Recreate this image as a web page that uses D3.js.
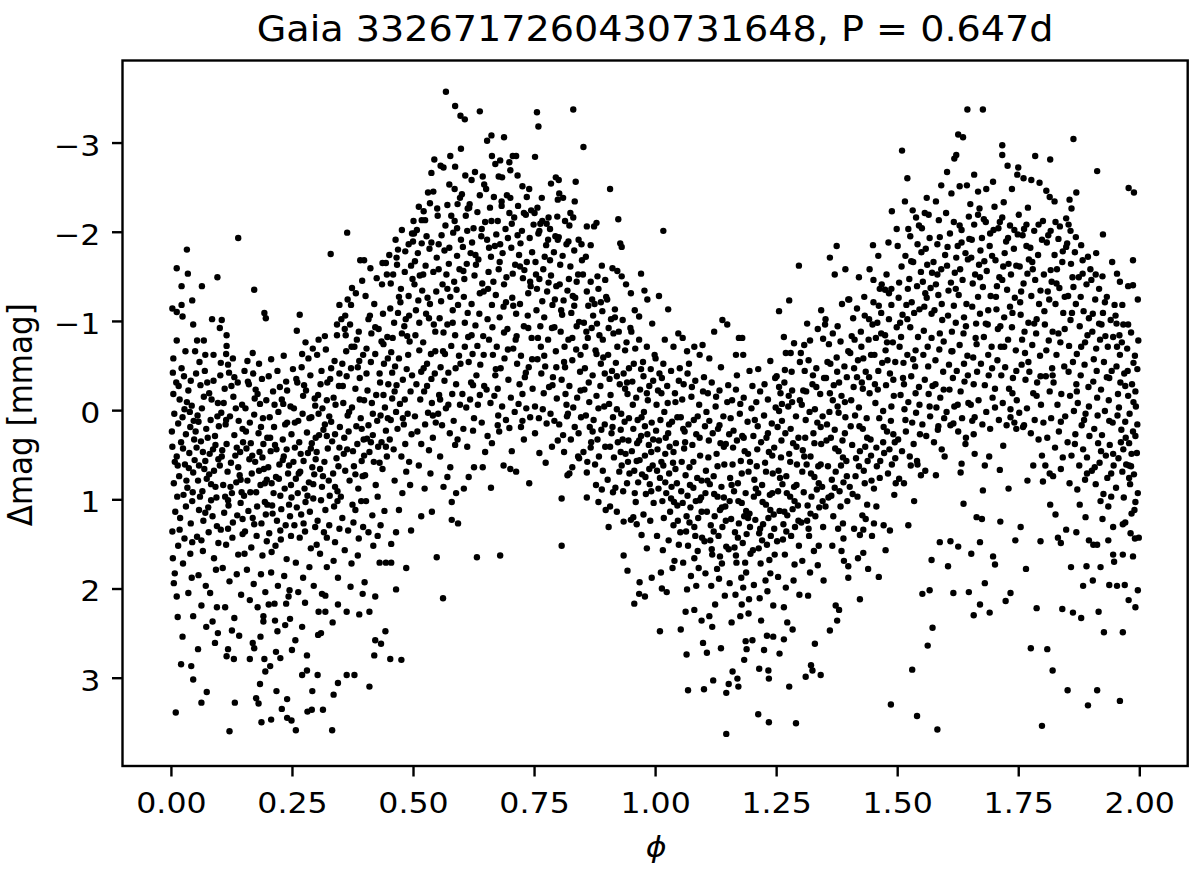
<!DOCTYPE html>
<html>
<head>
<meta charset="utf-8">
<script src="https://cdn.jsdelivr.net/npm/d3@7"></script>
<style>
body { margin: 0; background: #fff; }
text { font-family: "DejaVu Sans", sans-serif; fill: #000; }
</style>
</head>
<body>
<svg id="chart" width="1200" height="874"></svg>
<script>
const title = "Gaia 3326717260430731648, P = 0.647d"
const xLabel = "ϕ"
const yLabel = "Δmag [mmag]"
const xTicks = [0, 0.25, 0.5, 0.75, 1, 1.25, 1.5, 1.75, 2]
const yTicks = [-3, -2, -1, 0, 1, 2, 3]

// folded light curve, [phase, Δmag], one array per quarter of phase
const q1 = [
[.004,-.42],[.011,-.31],[.018,-.12],[.027,-.38],[.036,-.22],[.043,-.05],[.007,.04],[.015,.15],[.024,.08],[.031,.27],[.040,.19],[.048,.33],[.003,.41],[.012,.52],[.021,.36],[.029,.61],[.038,.48],[.046,.70],[.006,.82],[.017,.74],[.026,.95],[.034,.87],[.044,1.02],[.009,1.14],[.019,1.21],[.031,1.08],[.041,1.27],[.005,-.18],[.022,-.47],[.039,.02],[.014,.62],[.047,.12],[.002,.24],[.033,-.09],
[.003,1.36],[.015,1.52],[.028,1.44],[.040,1.61],[.004,1.66],[.008,1.83],[.043,1.88],[.006,1.94],[.012,2.09],[.025,1.72],[.036,2.05],[.014,2.32],[.046,2.31],[.024,2.54],[.021,2.85],[.042,2.87],[.046,3.02],[.010,3.39],
[.033,-1.80],[.012,-1.59],[.035,-1.53],[.022,-1.39],[.044,-1.23],[.022,-1.18],[.003,-1.14],[.012,-1.10],[.024,-1.05],[.046,-.96],[.012,-.78],[.030,-.66],[.005,-.58],
[.052,-.41],[.061,-.28],[.070,-.44],[.079,-.19],[.088,-.33],[.097,-.08],[.055,.06],[.064,-.02],[.073,.21],[.082,.11],[.091,.29],[.099,.18],[.053,.42],[.062,.35],[.071,.57],[.080,.49],[.089,.68],[.098,.55],[.056,.79],[.065,.91],[.074,.77],[.083,1.01],[.092,.86],[.058,1.12],[.067,1.24],[.077,1.09],[.086,1.19],[.095,1.30],[.051,.24],[.069,.66],[.087,.44],[.094,.98],[.060,.97],[.076,.31],[.084,-.12],
[.054,1.42],[.066,1.58],[.078,1.37],[.089,1.66],[.098,1.49],[.057,1.85],[.072,1.97],[.093,1.79],[.063,2.19],[.073,2.43],[.086,2.37],[.095,2.21],[.097,2.50],[.091,2.61],[.056,2.68],[.074,3.16],[.063,3.28],[.081,2.05],
[.064,-1.39],[.096,-1.49],[.085,-1.02],[.054,-.78],[.068,-.78],[.050,-.66],[.071,-.62],[.088,-.62],[.059,-.54],
[.102,-.39],[.111,-.24],[.120,-.42],[.129,-.15],[.138,-.31],[.147,-.06],[.104,.03],[.113,.16],[.122,.07],[.131,.28],[.140,.12],[.149,.36],[.106,.45],[.115,.38],[.124,.59],[.133,.51],[.142,.73],[.108,.84],[.117,.69],[.126,.93],[.135,.81],[.144,1.04],[.110,1.15],[.119,1.07],[.128,1.26],[.137,1.18],[.146,.92],[.101,.62],[.125,-.27],[.143,.47],[.112,.97],[.134,-.02],[.148,1.22],
[.103,1.34],[.114,1.51],[.127,1.43],[.139,1.62],[.148,1.39],[.107,1.77],[.121,1.92],[.136,1.84],[.145,2.07],[.112,2.21],[.131,2.33],[.118,2.68],[.130,2.79],[.115,2.76],[.141,2.53],[.132,3.28],[.121,3.60],[.126,2.47],
[.101,-.92],[.105,-1.01],[.115,-.84],[.115,-.72],[.114,-.63],[.103,-.53],[.118,-.51],[.139,-1.93],[.128,-.58],
[.152,-.44],[.161,-.29],[.170,-.41],[.179,-.18],[.188,-.35],[.197,-.11],[.154,-.02],[.163,.14],[.172,.05],[.181,.26],[.190,.09],[.199,.31],[.156,.43],[.165,.37],[.174,.58],[.183,.47],[.192,.66],[.158,.79],[.167,.71],[.176,.92],[.185,.84],[.194,1.03],[.160,1.13],[.169,1.21],[.178,1.08],[.187,1.27],[.196,1.17],[.151,.96],[.175,-.23],[.189,.53],[.162,.55],[.184,-.07],[.198,.78],
[.153,1.36],[.166,1.54],[.177,1.41],[.189,1.63],[.198,1.47],[.157,1.79],[.171,1.95],[.186,1.84],[.195,2.04],[.163,2.13],[.179,2.21],[.191,2.31],[.191,2.37],[.163,2.79],[.172,2.67],[.169,2.61],[.185,2.54],[.193,2.79],[.195,2.93],[.176,3.23],[.181,3.29],[.184,3.07],[.187,3.50],
[.172,-1.35],[.169,-.64],[.193,-1.09],[.196,-1.03],[.158,-.55],[.182,-.52],
[.202,-.38],[.211,-.21],[.220,-.44],[.229,-.12],[.238,-.32],[.247,-.04],[.204,.08],[.213,.19],[.222,.02],[.231,.33],[.240,.14],[.249,.27],[.206,.46],[.215,.39],[.224,.61],[.233,.52],[.242,.71],[.208,.82],[.217,.75],[.226,.96],[.235,.88],[.244,1.06],[.210,1.16],[.219,1.24],[.228,1.11],[.237,1.29],[.246,1.19],[.201,.64],[.225,-.26],[.239,.44],[.212,.93],[.248,.84],[.232,-.07],
[.203,1.38],[.216,1.52],[.227,1.45],[.239,1.67],[.248,1.41],[.207,1.82],[.221,1.97],[.234,1.86],[.245,2.02],[.202,2.18],[.214,2.17],[.215,2.36],[.220,2.48],[.226,2.78],[.217,2.71],[.238,2.17],[.243,2.09],[.246,2.34],[.236,2.41],[.205,2.87],[.218,3.15],[.207,3.47],[.229,3.35],[.240,3.24],[.240,3.45],[.249,3.48],
[.207,-.57],[.233,-.61],
[.008,.58],[.016,-.27],[.025,.43],[.032,.79],[.041,-.33],[.049,.56],[.013,.97],[.037,.65],[.028,-.01],[.045,.92],
[.057,.13],[.066,.47],[.075,-.31],[.083,.83],[.092,.39],[.058,.62],[.071,1.15],[.079,.72],[.096,.07],[.068,-.15],
[.105,.52],[.114,.11],[.123,.86],[.131,-.37],[.139,.64],[.148,.21],[.109,-.08],[.118,1.01],[.136,.42],[.144,.78],
[.155,.24],[.164,.92],[.173,-.13],[.182,.68],[.191,.38],[.199,1.06],[.159,-.32],[.168,.51],[.186,.19],[.194,.82],
[.205,.31],[.214,-.06],[.223,.77],[.231,.56],[.240,-.22],[.249,.98],[.209,1.07],[.218,.44],[.236,.16],[.244,.62],
[.018,1.34],[.063,1.46],[.118,1.33],[.172,1.28],[.226,1.35],[.044,1.48],[.152,1.61],[.208,1.59]
]

const q2 = [
[.252,-.46],[.261,-.31],[.270,-.48],[.279,-.22],[.288,-.39],[.297,-.13],[.254,-.02],[.263,.12],[.272,.04],[.281,.25],[.290,.08],[.299,.31],[.256,.42],[.265,.36],[.274,.57],[.283,.48],[.292,.64],[.258,.77],[.267,.69],[.276,.88],[.285,.81],[.294,.99],[.260,1.09],[.269,1.17],[.278,1.03],[.287,1.14],[.296,.72],[.253,.58],[.275,-.28],[.289,.43],[.262,.93],[.298,-.05],[.284,-.58],
[.255,1.29],[.266,1.43],[.277,1.36],[.289,1.55],[.298,1.31],[.258,1.71],[.273,1.88],[.286,1.76],[.295,1.97],[.263,2.04],[.277,2.16],[.250,2.69],[.257,2.58],[.271,2.43],[.271,2.97],[.281,2.75],[.281,2.92],[.292,3.15],[.291,3.36],[.282,3.38],[.258,3.59],
[.266,-1.07],[.260,-.89],[.278,-.76],[.293,-.69],[.271,-.63],
[.302,-.62],[.311,-.44],[.320,-.68],[.329,-.35],[.338,-.55],[.347,-.27],[.304,-.17],[.313,-.02],[.322,-.11],[.331,.13],[.340,-.06],[.349,.19],[.306,.28],[.315,.22],[.324,.43],[.333,.35],[.342,.54],[.308,.66],[.317,.58],[.326,.79],[.335,.71],[.344,.91],[.310,1.01],[.319,1.12],[.328,.96],[.337,1.08],[.346,.63],[.301,.47],[.323,-.31],[.339,.27],[.312,.86],[.348,-.41],[.327,.07],
[.303,1.24],[.316,1.37],[.327,1.29],[.339,1.48],[.348,1.33],[.308,1.61],[.322,1.76],[.336,1.69],[.345,1.88],[.312,2.06],[.319,2.08],[.305,2.26],[.319,2.26],[.310,2.50],[.304,2.52],[.334,2.38],[.345,2.18],[.303,2.97],[.345,3.06],[.336,3.19],[.333,3.59],[.314,3.36],
[.330,-1.75],[.348,-1.18],[.343,-.96],[.343,-.84],[.318,-.83],[.305,-.79],
[.352,-1.02],[.361,-.84],[.370,-.96],[.379,-.71],[.388,-.88],[.397,-.62],[.354,-.52],[.363,-.38],[.372,-.47],[.381,-.24],[.390,-.36],[.399,-.11],[.356,-.08],[.365,.06],[.374,-.03],[.383,.18],[.392,.09],[.358,.31],[.367,.24],[.376,.46],[.385,.38],[.394,.57],[.360,.68],[.369,.79],[.378,.63],[.387,.88],[.396,.74],[.351,.97],[.375,1.06],[.389,-.55],[.362,-.66],[.398,.33],[.384,-.79],[.357,.49],[.393,1.02],
[.354,1.21],[.366,1.35],[.377,1.26],[.388,1.44],[.397,1.31],[.359,1.57],[.373,1.72],[.386,1.63],[.371,1.98],[.363,2.26],[.389,2.29],[.400,1.93],[.396,2.06],[.379,2.97],[.363,2.97],
[.364,-1.99],[.365,-1.24],[.372,-1.18],[.374,-1.37],[.360,-1.06],[.391,-1.68],[.399,-1.68],[.382,-1.31],[.395,-1.45],
[.402,-1.28],[.411,-1.06],[.420,-1.19],[.429,-.91],[.438,-1.08],[.447,-.82],[.404,-.69],[.413,-.54],[.422,-.63],[.431,-.41],[.440,-.52],[.449,-.29],[.406,-.22],[.415,-.08],[.424,-.17],[.433,.06],[.442,-.03],[.408,.17],[.417,.28],[.426,.12],[.435,.36],[.444,.23],[.410,.47],[.419,.58],[.428,.41],[.437,.66],[.446,.52],[.401,.73],[.423,.84],[.439,-.74],[.414,-.86],[.448,.09],[.432,-.31],[.405,.32],
[.403,1.02],[.416,1.18],[.427,.97],[.441,1.13],[.408,1.37],[.433,1.29],[.444,1.71],[.431,1.71],[.422,2.09],[.410,2.26],[.443,2.48],[.422,2.58],[.434,2.62],[.420,2.75],[.410,3.10],[.418,1.52],
[.437,-1.65],[.444,-1.65],[.436,-1.41],[.425,-1.48],[.412,-1.59],[.446,-1.52],
[.451,-1.74],[.459,-1.52],[.467,-1.63],[.475,-1.36],[.483,-1.55],[.491,-1.28],[.499,-1.47],[.453,-1.14],[.461,-.98],[.469,-1.09],[.477,-.86],[.485,-1.02],[.493,-.77],[.455,-.65],[.463,-.49],[.471,-.58],[.479,-.34],[.487,-.46],[.495,-.21],[.457,-.13],[.465,.02],[.473,-.07],[.481,.16],[.489,.04],[.497,.27],[.452,.33],[.460,.44],[.468,.21],[.476,.52],[.484,.38],[.492,.58],[.458,-.81],[.474,-1.21],[.490,-.62],[.466,-.28],[.482,-.94],[.498,-.39],[.454,.11],[.486,.69],
[.462,.79],[.478,.93],[.494,.84],[.455,1.50],[.465,1.37],[.455,1.71],[.486,1.77],[.496,1.35],[.465,2.01],[.453,2.79],[.476,2.80],[.471,1.12],
[.469,-1.80],[.484,-1.78],[.491,-1.86],[.500,-1.89],[.498,-1.98],[.464,-1.91],[.477,-2.02],
[.256,.14],[.264,.71],[.273,-.16],[.282,.96],[.291,.37],[.299,.55],[.259,-.35],[.268,.49],[.286,.09],[.294,.83],
[.305,.04],[.314,.74],[.322,.29],[.331,-.47],[.339,.86],[.348,.42],[.309,-.29],[.318,.16],[.336,-.14],[.344,1.02],
[.355,-.27],[.364,.44],[.373,-.71],[.381,.72],[.390,-.12],[.399,.51],[.359,-.91],[.368,.02],[.386,-.48],[.394,.21],
[.404,-.41],[.413,.36],[.422,-.93],[.431,.59],[.439,-.17],[.448,-.58],[.408,-1.02],[.417,.04],[.435,-.77],[.444,.41],
[.454,-1.42],[.462,-.21],[.471,-1.27],[.479,.09],[.488,-.83],[.496,-1.62],[.457,-.42],[.466,-1.71],[.483,-.12],[.492,-1.06],
[.274,1.27],[.322,1.43],[.381,1.12],[.427,1.41],[.301,1.51]
]

const q3 = [
[.502,-1.98],[.510,-1.76],[.518,-1.87],[.526,-1.62],[.534,-1.81],[.542,-1.55],[.503,-1.41],[.511,-1.23],[.519,-1.34],[.527,-1.08],[.535,-1.19],[.543,-.96],[.505,-.84],[.513,-.67],[.521,-.76],[.529,-.52],[.537,-.63],[.545,-.41],[.507,-.29],[.515,-.12],[.523,-.21],[.531,.03],[.539,-.08],[.547,.14],[.509,.24],[.517,.38],[.525,.16],[.533,.45],[.541,.31],[.549,-1.71],[.514,-1.51],[.530,-1.26],[.546,-.88],[.506,-1.12],[.522,-.47],[.538,-.35],[.504,.07],[.548,-1.33],[.528,-1.95],
[.512,.62],[.536,.71],[.517,1.19],[.539,1.14],[.549,1.65],[.524,.88],
[.501,-2.12],[.518,-2.13],[.525,-2.13],[.522,-2.23],[.531,-2.44],[.542,-2.45],[.535,-2.32],[.550,-2.26],[.544,-2.81],[.538,-2.66],[.512,-2.28],
[.551,-2.18],[.559,-1.96],[.567,-2.07],[.575,-1.82],[.583,-1.99],[.591,-1.73],[.599,-1.91],[.553,-1.58],[.561,-1.41],[.569,-1.52],[.577,-1.27],[.585,-1.44],[.593,-1.18],[.555,-1.03],[.563,-.87],[.571,-.96],[.579,-.72],[.587,-.84],[.595,-.61],[.557,-.48],[.565,-.33],[.573,-.42],[.581,-.18],[.589,-.29],[.597,-.06],[.552,.04],[.560,.17],[.568,-.02],[.576,.26],[.584,.12],[.592,.33],[.558,-1.22],[.574,-1.64],[.590,-1.35],[.566,-.63],[.582,-.98],[.598,-.52],[.554,-.17],[.586,-2.12],
[.587,.39],[.577,.64],[.589,.93],[.580,1.03],[.563,.86],[.571,.75],[.580,1.23],[.593,1.27],[.562,2.11],[.556,.52],
[.568,-3.57],[.587,-3.41],[.598,-3.30],[.599,-2.93],[.557,-2.74],[.563,-2.72],[.577,-2.85],[.587,-2.73],[.575,-2.53],[.586,-2.48],[.597,-2.38],[.592,-2.31],[.571,-2.30],
[.601,-2.42],[.609,-2.18],[.617,-2.31],[.625,-2.04],[.633,-2.22],[.641,-1.95],[.649,-2.11],[.603,-1.83],[.611,-1.64],[.619,-1.76],[.627,-1.51],[.635,-1.69],[.643,-1.42],[.605,-1.27],[.613,-1.09],[.621,-1.19],[.629,-.95],[.637,-1.08],[.645,-.83],[.607,-.71],[.615,-.54],[.623,-.63],[.631,-.39],[.639,-.51],[.647,-.27],[.602,-.18],[.610,-.03],[.618,-.12],[.626,.09],[.634,-.06],[.642,.14],[.606,-1.47],[.622,-1.88],[.638,-1.31],[.614,-.82],[.630,-1.63],[.646,-.62],[.620,-.31],[.604,.21],
[.624,.23],[.626,.64],[.615,.75],[.605,.88],[.632,1.65],[.644,.64],[.649,.47],[.612,.41],
[.607,-3.26],[.608,-2.63],[.628,-2.67],[.613,-2.26],[.638,-3.35],[.644,-2.62],[.647,-2.53],[.638,-2.41],[.621,-2.58],
[.651,-2.48],[.659,-2.27],[.667,-2.39],[.675,-2.12],[.683,-2.29],[.691,-2.03],[.699,-2.21],[.653,-1.91],[.661,-1.72],[.669,-1.84],[.677,-1.58],[.685,-1.76],[.693,-1.49],[.655,-1.36],[.663,-1.18],[.671,-1.29],[.679,-1.04],[.687,-1.16],[.695,-.91],[.657,-.79],[.665,-.62],[.673,-.71],[.681,-.47],[.689,-.58],[.697,-.34],[.652,-.23],[.660,-.08],[.668,-.16],[.676,.06],[.684,-.04],[.692,.11],[.656,-1.55],[.672,-1.97],[.688,-1.41],[.664,-.93],[.680,-1.86],[.696,-.68],[.670,-.39],[.694,-2.41],
[.675,.17],[.678,.24],[.663,.37],[.687,.62],[.661,.87],[.699,.20],[.680,1.63],[.654,.29],
[.662,-3.08],[.653,-3.02],[.688,-3.06],[.663,-2.85],[.680,-2.80],[.670,-2.76],[.699,-2.78],[.684,-2.61],[.677,-2.62],
[.701,-2.38],[.709,-2.16],[.717,-2.29],[.725,-2.01],[.733,-2.19],[.741,-1.93],[.749,-2.08],[.703,-1.82],[.711,-1.63],[.719,-1.74],[.727,-1.48],[.735,-1.66],[.743,-1.39],[.705,-1.26],[.713,-1.08],[.721,-1.19],[.729,-.94],[.737,-1.06],[.745,-.81],[.707,-.69],[.715,-.52],[.723,-.61],[.731,-.37],[.739,-.48],[.747,-.24],[.702,-.14],[.710,.02],[.718,-.07],[.726,.12],[.734,-.02],[.742,.08],[.706,-1.53],[.722,-1.87],[.738,-1.31],[.714,-.83],[.730,-1.57],[.746,-.57],[.720,-.29],[.744,-2.24],
[.723,.19],[.701,.66],[.713,.69],[.704,.46],[.740,.82],[.729,.33],
[.706,-2.85],[.713,-2.85],[.701,-2.69],[.716,-2.63],[.726,-2.51],[.740,-2.48],[.735,-2.39],
[.504,-1.67],[.513,-.98],[.521,-1.52],[.529,-.27],[.538,-1.88],[.546,-.66],[.508,-2.02],[.517,-.43],[.533,-1.03],[.541,.06],
[.553,-1.86],[.562,-.66],[.571,-1.36],[.579,-2.18],[.588,-.47],[.596,-1.58],[.556,-.12],[.565,-1.79],[.582,-1.12],[.591,-2.04],
[.604,-1.56],[.612,-2.01],[.621,-.84],[.629,-1.74],[.638,-.17],[.646,-1.33],[.607,-.98],[.616,-2.27],[.633,-.72],[.642,-2.03],
[.654,-1.02],[.662,-2.12],[.671,-.46],[.679,-1.66],[.688,-.87],[.696,-1.93],[.657,-1.82],[.666,-1.44],[.683,-2.34],[.692,-1.21],
[.704,-2.09],[.712,-.79],[.721,-1.61],[.729,-2.21],[.738,-.92],[.746,-1.77],[.707,-1.17],[.716,-1.96],[.733,-.42],[.742,-1.44],
[.675,-.24],[.726,-.18],[.624,-.28],[.573,-.06]
]

const q4 = [
[.751,-2.21],[.759,-1.98],[.767,-2.12],[.775,-1.85],[.783,-2.03],[.791,-1.77],[.799,-1.91],[.753,-1.66],[.761,-1.47],[.769,-1.58],[.777,-1.33],[.785,-1.51],[.793,-1.24],[.755,-1.12],[.763,-.94],[.771,-1.04],[.779,-.79],[.787,-.92],[.795,-.66],[.757,-.57],[.765,-.41],[.773,-.49],[.781,-.26],[.789,-.37],[.797,-.13],[.752,-.04],[.760,.09],[.768,-.01],[.776,.15],[.784,.04],[.792,.12],[.756,-1.36],[.772,-1.72],[.788,-1.18],[.764,-.71],[.780,-1.43],[.796,-.48],[.770,-.19],
[.752,.26],[.774,.59],[.787,.41],[.799,.34],[.761,.48],
[.756,-3.34],[.759,-3.18],[.752,-2.84],[.757,-2.27],[.761,-2.01],[.795,-2.61],[.785,-2.54],[.798,-2.17],[.780,-2.16],[.776,-2.09],[.794,-1.95],[.766,-2.38],
[.801,-1.94],[.809,-1.73],[.817,-1.86],[.825,-1.61],[.833,-1.79],[.841,-1.52],[.849,-1.68],[.803,-1.41],[.811,-1.23],[.819,-1.34],[.827,-1.09],[.835,-1.26],[.843,-.99],[.805,-.88],[.813,-.71],[.821,-.79],[.829,-.56],[.837,-.68],[.845,-.43],[.807,-.34],[.815,-.18],[.823,-.27],[.831,-.03],[.839,-.14],[.847,.08],[.802,.16],[.810,.28],[.818,.07],[.826,.33],[.834,.19],[.842,.26],[.806,-1.12],[.822,-1.47],[.838,-.94],[.814,-.48],[.830,-1.28],[.846,-.22],[.820,.04],
[.807,.99],[.807,1.52],[.812,.47],[.823,.71],[.819,.73],[.829,.64],[.841,.52],
[.801,-2.58],[.802,-2.43],[.810,-2.38],[.799,-2.36],[.825,-2.21],[.831,-2.16],[.823,-2.07],[.831,-3.37],[.814,-2.12],
[.851,-1.52],[.859,-1.33],[.867,-1.44],[.875,-1.19],[.883,-1.36],[.891,-1.11],[.899,-1.27],[.853,-.98],[.861,-.81],[.869,-.92],[.877,-.67],[.885,-.84],[.893,-.59],[.855,-.47],[.863,-.31],[.871,-.39],[.879,-.16],[.887,-.27],[.895,-.04],[.857,.06],[.865,.19],[.873,.11],[.881,.33],[.889,.22],[.897,.41],[.852,.47],[.860,.58],[.868,.36],[.876,.61],[.884,.52],[.892,.68],[.856,-.71],[.872,-1.06],[.888,-.52],[.864,-.09],[.880,-.97],[.896,.16],[.870,-1.24],
[.859,.98],[.859,.70],[.843,.54],[.883,1.03],[.890,.89],[.878,.84],[.898,1.12],
[.852,-2.95],[.836,-2.56],[.834,-2.34],[.879,-2.10],[.874,-2.06],[.859,-2.06],[.867,-1.85],[.857,-1.72],[.890,-1.62],[.897,-1.46],[.881,-1.50],[.848,-1.86],
[.901,-1.24],[.909,-1.02],[.917,-1.13],[.925,-.88],[.933,-1.01],[.941,-.76],[.949,-.92],[.903,-.62],[.911,-.44],[.919,-.53],[.927,-.29],[.935,-.41],[.943,-.18],[.905,-.07],[.913,.08],[.921,-.01],[.929,.22],[.937,.13],[.945,.34],[.907,.41],[.915,.53],[.923,.36],[.931,.62],[.939,.49],[.947,.71],[.902,.78],[.910,.26],[.918,.87],[.926,.69],[.934,.91],[.942,.82],[.906,-.35],[.922,-.71],[.938,-.24],[.914,-.86],[.930,.04],[.946,-.47],[.944,.58],
[.907,1.08],[.913,.92],[.935,1.63],[.943,1.80],[.935,1.25],[.950,1.23],[.921,1.14],[.904,1.31],
[.907,-2.48],[.924,-2.14],[.928,-1.87],[.931,-1.83],[.931,-1.50],[.922,-1.56],[.912,-1.59],[.940,-1.41],
[.951,-.88],[.959,-.69],[.967,-.79],[.975,-.54],[.983,-.71],[.991,-.46],[.999,-.62],[.953,-.32],[.961,-.14],[.969,-.23],[.977,.02],[.985,-.11],[.993,.14],[.955,.21],[.963,.37],[.971,.29],[.979,.51],[.987,.39],[.995,.62],[.957,.68],[.965,.81],[.973,.72],[.981,.94],[.989,.83],[.997,1.04],[.952,.46],[.960,1.03],[.968,.56],[.976,-.38],[.984,.27],[.992,.91],[.956,-.52],[.972,.08],[.988,-.27],[.964,.11],[.980,.75],[.996,.33],
[.955,1.20],[.972,1.40],[.983,1.55],[.968,1.93],[.993,1.88],[.967,2.06],[.979,2.09],[.957,2.17],[.962,1.28],[.990,1.24],[.976,1.17],
[.950,-1.31],[.971,-1.53],[.978,-1.34],[.984,-1.24],[.967,-1.05],[.994,-.97],[.958,-1.12],
[.754,-1.52],[.763,-2.09],[.771,-.61],[.779,-1.91],[.788,-.28],[.796,-1.39],[.758,-.81],[.767,-1.22],[.783,-1.68],[.792,-.93],
[.804,-1.63],[.812,-.54],[.821,-1.89],[.829,-.81],[.838,-1.44],[.846,-.62],[.808,-1.07],[.817,-.06],[.833,-1.17],[.842,-1.91],
[.854,-.23],[.862,-1.17],[.871,.24],[.879,-.63],[.888,-1.21],[.896,-.41],[.858,-.88],[.867,.42],[.883,-.02],[.892,-.79],
[.904,-.92],[.912,.19],[.921,-.38],[.929,.47],[.938,-.67],[.946,.09],[.908,-.17],[.917,-1.04],[.933,.33],[.942,-.31],
[.954,-.06],[.962,.57],[.971,-.46],[.979,.18],[.988,.66],[.996,-.33],[.958,.93],[.967,.34],[.983,-.19],[.992,.47]
]

const q5 = [
[1.001,-.58],[1.009,-.41],[1.017,-.52],[1.025,-.27],[1.033,-.44],[1.041,-.19],[1.049,-.33],[1.003,-.06],[1.011,.11],[1.019,.02],[1.027,.26],[1.035,.13],[1.043,.37],[1.005,.44],[1.013,.58],[1.021,.49],[1.029,.71],[1.037,.59],[1.045,.82],[1.007,.88],[1.015,1.02],[1.023,.93],[1.031,1.14],[1.039,1.03],[1.047,1.24],[1.002,.23],[1.010,.76],[1.018,1.21],[1.026,-.08],[1.034,.86],[1.042,.66],[1.006,-.22],[1.022,.31],[1.038,1.29],[1.014,-.36],[1.030,.41],[1.046,.08],
[1.004,1.41],[1.016,1.57],[1.028,1.46],[1.040,1.69],[1.049,1.51],[1.012,1.82],[1.036,1.77],[1.014,2.00],[1.024,2.04],[1.010,2.48],
[1.017,-2.01],[1.008,-1.28],[1.027,-1.13],[1.048,-.86],[1.020,-.79],[1.038,-.71],
[1.051,-.47],[1.059,-.29],[1.067,-.41],[1.075,-.15],[1.083,-.33],[1.091,-.06],[1.099,-.21],[1.053,.08],[1.061,.24],[1.069,.16],[1.077,.39],[1.085,.27],[1.093,.51],[1.055,.58],[1.063,.73],[1.071,.64],[1.079,.87],[1.087,.76],[1.095,.98],[1.057,1.04],[1.065,1.19],[1.073,1.09],[1.081,1.31],[1.089,1.21],[1.097,1.43],[1.052,1.37],[1.060,.43],[1.068,1.52],[1.076,-.26],[1.084,1.02],[1.092,.31],[1.056,-.12],[1.072,.84],[1.088,1.58],[1.064,1.36],[1.080,.11],[1.096,1.14],[1.070,-.52],
[1.058,1.71],[1.074,1.86],[1.090,1.77],[1.066,2.01],[1.085,1.97],[1.063,2.26],[1.081,2.24],[1.053,2.46],[1.065,2.74],[1.096,2.36],[1.068,3.14],[1.099,2.61],
[1.057,-.81],[1.081,-.71],[1.098,-.73],[1.092,-.62],[1.066,-.66],
[1.101,-.37],[1.109,-.19],[1.117,-.31],[1.125,-.04],[1.133,-.22],[1.141,.07],[1.149,-.09],[1.103,.18],[1.111,.34],[1.119,.26],[1.127,.49],[1.135,.37],[1.143,.61],[1.105,.68],[1.113,.83],[1.121,.74],[1.129,.97],[1.137,.86],[1.145,1.08],[1.107,1.14],[1.115,1.29],[1.123,1.19],[1.131,1.41],[1.139,1.31],[1.147,1.53],[1.102,1.47],[1.110,.53],[1.118,1.62],[1.126,-.15],[1.134,1.12],[1.142,.41],[1.106,.02],[1.122,.94],[1.138,1.72],[1.114,1.46],[1.130,.21],[1.146,1.24],[1.128,1.78],
[1.104,1.83],[1.116,1.97],[1.132,1.89],[1.144,2.08],[1.124,2.18],[1.118,2.43],[1.107,2.72],[1.136,2.67],[1.101,3.13],[1.120,3.03],[1.147,3.17],[1.147,3.63],[1.112,2.31],
[1.122,-.88],[1.139,-1.01],[1.149,-.96],[1.136,-.48],[1.112,-.58],
[1.151,-.28],[1.159,-.11],[1.167,-.23],[1.175,.04],[1.183,-.14],[1.191,.13],[1.199,-.02],[1.153,.27],[1.161,.42],[1.169,.34],[1.177,.57],[1.185,.46],[1.193,.69],[1.155,.76],[1.163,.91],[1.171,.82],[1.179,1.04],[1.187,.93],[1.195,1.16],[1.157,1.22],[1.165,1.37],[1.173,1.27],[1.181,1.49],[1.189,1.39],[1.197,1.61],[1.152,1.56],[1.160,.61],[1.168,1.71],[1.176,-.07],[1.184,1.19],[1.192,.49],[1.156,.09],[1.172,1.02],[1.188,1.82],[1.164,1.54],[1.180,.29],[1.196,1.31],[1.178,1.88],
[1.154,1.94],[1.166,2.07],[1.182,1.99],[1.194,2.12],[1.158,2.38],[1.176,2.31],[1.193,2.28],[1.179,2.18],[1.189,2.68],[1.187,2.59],[1.184,2.80],[1.152,3.07],[1.160,2.93],[1.170,3.01],[1.172,3.10],
[1.173,-.81],[1.180,-.81],[1.167,-.62],[1.182,-.62],[1.169,-.39],[1.195,-.44],
[1.201,-.27],[1.209,-.09],[1.217,-.21],[1.225,.06],[1.233,-.12],[1.241,.15],[1.249,-.03],[1.203,.29],[1.211,.44],[1.219,.36],[1.227,.59],[1.235,.47],[1.243,.71],[1.205,.78],[1.213,.93],[1.221,.84],[1.229,1.06],[1.237,.95],[1.245,1.17],[1.207,1.23],[1.215,1.38],[1.223,1.28],[1.231,1.51],[1.239,1.41],[1.247,1.62],[1.202,1.57],[1.210,.63],[1.218,1.72],[1.226,-.29],[1.234,1.21],[1.242,.51],[1.206,.11],[1.222,1.03],[1.238,1.83],[1.214,1.55],[1.230,.31],[1.246,1.33],[1.228,1.91],
[1.204,1.96],[1.216,2.11],[1.232,2.03],[1.244,2.19],[1.201,2.58],[1.225,2.69],[1.231,2.53],[1.244,2.54],[1.215,2.90],[1.234,2.92],[1.235,3.01],[1.213,3.41],[1.235,3.50],[1.219,2.36],
[1.213,-.46],[1.238,-.55],[1.248,-.36],
[1.004,.68],[1.013,-.19],[1.021,.81],[1.029,.16],[1.038,.47],[1.046,1.07],[1.008,.34],[1.017,.62],[1.033,.99],[1.042,-.09],
[1.054,.91],[1.062,.36],[1.071,1.26],[1.079,.58],[1.088,.07],[1.096,.79],[1.058,.21],[1.067,.96],[1.083,1.41],[1.092,1.01],
[1.104,.93],[1.112,.12],[1.121,1.36],[1.129,.63],[1.138,1.09],[1.146,.38],[1.108,.79],[1.117,1.56],[1.133,.17],[1.142,.98],
[1.154,1.02],[1.162,.23],[1.171,1.43],[1.179,.71],[1.188,1.13],[1.196,.58],[1.158,.84],[1.167,1.63],[1.183,.31],[1.192,1.21],
[1.204,.97],[1.212,.18],[1.221,1.46],[1.229,.69],[1.238,1.12],[1.246,.42],[1.208,.88],[1.217,1.33],[1.233,.26],[1.242,.93],
[1.134,1.64],[1.186,1.71],[1.236,1.68],[1.081,1.66]
]

const q6 = [
[1.251,-.38],[1.259,-.19],[1.267,-.31],[1.275,-.04],[1.283,-.22],[1.291,.07],[1.299,-.11],[1.253,.19],[1.261,.34],[1.269,.26],[1.277,.49],[1.285,.37],[1.293,.61],[1.255,.68],[1.263,.83],[1.271,.74],[1.279,.97],[1.287,.86],[1.295,1.07],[1.257,1.13],[1.265,1.28],[1.273,1.18],[1.281,1.41],[1.289,1.31],[1.297,1.52],[1.252,1.47],[1.260,.53],[1.268,1.62],[1.276,-.16],[1.284,1.11],[1.292,.41],[1.256,.01],[1.272,.93],[1.288,1.73],[1.264,1.45],[1.280,.21],[1.296,1.24],[1.262,-.07],
[1.254,1.87],[1.270,1.99],[1.286,1.91],[1.298,2.07],[1.266,2.21],[1.257,2.73],[1.266,2.57],[1.273,2.38],[1.277,3.10],[1.291,3.51],[1.284,2.46],
[1.297,-1.62],[1.277,-1.23],[1.256,-1.11],[1.266,-.82],[1.287,-.75],[1.270,-.64],[1.280,-.64],[1.299,-.54],[1.268,-.45],[1.282,-.43],[1.256,-.26],
[1.301,-.64],[1.309,-.44],[1.317,-.56],[1.325,-.29],[1.333,-.47],[1.341,-.18],[1.349,-.36],[1.303,-.06],[1.311,.11],[1.319,.02],[1.327,.26],[1.335,.14],[1.343,.38],[1.305,.45],[1.313,.61],[1.321,.52],[1.329,.75],[1.337,.63],[1.345,.86],[1.307,.92],[1.315,1.07],[1.323,.97],[1.331,1.19],[1.339,1.09],[1.347,1.31],[1.302,1.26],[1.310,.31],[1.318,1.41],[1.326,-.39],[1.334,.89],[1.342,.19],[1.306,-.22],[1.322,.71],[1.338,1.52],[1.314,1.24],[1.330,-.01],[1.346,1.02],[1.328,1.58],
[1.304,1.69],[1.320,1.82],[1.336,1.74],[1.348,1.91],[1.316,2.08],[1.330,2.62],[1.311,2.99],[1.322,2.86],[1.325,2.92],[1.342,2.97],
[1.308,-.73],[1.320,-.78],[1.343,-1.12],[1.347,-.80],[1.336,-.91],[1.314,-.97],
[1.351,-.96],[1.359,-.74],[1.367,-.86],[1.375,-.59],[1.383,-.77],[1.391,-.49],[1.399,-.66],[1.353,-.36],[1.361,-.19],[1.369,-.28],[1.377,-.04],[1.385,-.16],[1.393,.08],[1.355,.16],[1.363,.31],[1.371,.22],[1.379,.46],[1.387,.34],[1.395,.57],[1.357,.63],[1.365,.78],[1.373,.69],[1.381,.91],[1.389,.81],[1.397,1.02],[1.352,1.08],[1.360,.02],[1.368,1.19],[1.376,-.43],[1.384,.62],[1.392,-.09],[1.356,-.54],[1.372,.43],[1.388,1.27],[1.364,.96],[1.380,-.31],[1.396,.74],[1.378,1.33],
[1.361,2.47],[1.376,2.36],[1.373,2.19],[1.380,2.24],[1.399,1.88],[1.390,1.69],[1.399,1.75],[1.385,1.58],[1.389,1.44],[1.366,1.52],
[1.352,-1.02],[1.361,-1.71],[1.371,-1.52],[1.393,-1.58],[1.399,-1.24],[1.375,-1.84],[1.377,-.94],[1.386,-1.19],
[1.401,-1.24],[1.409,-1.03],[1.417,-1.14],[1.425,-.88],[1.433,-1.06],[1.441,-.79],[1.449,-.96],[1.403,-.64],[1.411,-.47],[1.419,-.56],[1.427,-.31],[1.435,-.43],[1.443,-.19],[1.405,-.11],[1.413,.06],[1.421,-.03],[1.429,.21],[1.437,.09],[1.445,.33],[1.407,.39],[1.415,.54],[1.423,.46],[1.431,.68],[1.439,.57],[1.447,.79],[1.402,.86],[1.410,-.26],[1.418,.97],[1.426,-.71],[1.434,.41],[1.442,-.37],[1.406,-.83],[1.422,.18],[1.438,1.06],[1.414,.74],[1.430,-.58],[1.446,.51],[1.428,1.18],
[1.411,1.33],[1.430,1.34],[1.423,1.40],[1.435,1.22],[1.419,1.66],[1.430,1.60],[1.423,2.12],[1.440,1.78],[1.448,1.41],
[1.432,-1.27],[1.450,-1.85],[1.421,-1.49],[1.443,-1.58],
[1.451,-1.21],[1.459,-.98],[1.467,-1.09],[1.475,-.84],[1.483,-1.02],[1.491,-.76],[1.499,-.93],[1.453,-.62],[1.461,-.44],[1.469,-.53],[1.477,-.28],[1.485,-.41],[1.493,-.16],[1.455,-.08],[1.463,.09],[1.471,.01],[1.479,.24],[1.487,.12],[1.495,.36],[1.457,.42],[1.465,.57],[1.473,.48],[1.481,.71],[1.489,.61],[1.497,.82],[1.452,.88],[1.460,-.23],[1.468,-1.41],[1.476,-.67],[1.484,.44],[1.492,-.34],[1.456,-.81],[1.472,.19],[1.488,-1.18],[1.464,.76],[1.480,-.56],[1.496,.54],[1.478,-1.52],
[1.457,1.08],[1.494,.95],[1.452,1.27],[1.472,1.29],[1.485,1.35],[1.476,1.57],[1.462,1.87],[1.487,3.30],
[1.451,-1.46],[1.461,-1.73],[1.464,-1.36],[1.475,-1.35],[1.488,-1.36],[1.489,-2.23],[1.499,-2.03],[1.482,-1.88],
[1.254,.91],[1.262,.12],[1.271,1.36],[1.279,.58],[1.288,1.02],[1.296,.31],[1.258,.76],[1.267,1.14],[1.283,-.09],[1.292,.84],
[1.304,.69],[1.312,-.21],[1.321,1.16],[1.329,.37],[1.338,.82],[1.346,.07],[1.308,.52],[1.317,1.33],[1.333,-.26],[1.342,.61],
[1.354,.34],[1.362,-.52],[1.371,.87],[1.379,.03],[1.388,.53],[1.396,-.37],[1.358,.98],[1.367,-.11],[1.383,1.08],[1.392,.26],
[1.404,.18],[1.412,-.79],[1.421,.63],[1.429,-.24],[1.438,.31],[1.446,-.62],[1.408,.94],[1.417,-.37],[1.433,.82],[1.442,-1.02],
[1.454,-.29],[1.462,-1.17],[1.471,.36],[1.479,-.76],[1.488,-.04],[1.496,-.54],[1.458,.63],[1.467,-.86],[1.483,-1.31],[1.492,.27]
]

const q7 = [
[1.501,-1.84],[1.509,-1.61],[1.517,-1.73],[1.525,-1.47],[1.533,-1.66],[1.541,-1.39],[1.549,-1.55],[1.503,-1.26],[1.511,-1.07],[1.519,-1.18],[1.527,-.93],[1.535,-1.09],[1.543,-.82],[1.505,-.71],[1.513,-.53],[1.521,-.62],[1.529,-.38],[1.537,-.49],[1.545,-.26],[1.507,-.17],[1.515,-.01],[1.523,-.09],[1.531,.14],[1.539,.03],[1.547,.27],[1.502,.33],[1.510,.46],[1.518,.24],[1.526,.52],[1.534,.38],[1.542,.61],[1.506,-.98],[1.522,-1.36],[1.538,-.67],[1.514,-.29],[1.530,-1.21],[1.546,-.06],[1.550,-1.77],
[1.504,.77],[1.514,.82],[1.528,.62],[1.541,.57],[1.549,.73],[1.535,1.02],[1.523,1.29],[1.531,2.91],[1.541,3.43],
[1.510,-2.91],[1.521,-2.60],[1.516,-2.34],[1.539,-2.16],[1.523,-2.03],[1.527,-1.95],[1.545,-2.07],[1.532,-2.24],
[1.551,-2.04],[1.559,-1.81],[1.567,-1.93],[1.575,-1.66],[1.583,-1.86],[1.591,-1.58],[1.599,-1.74],[1.553,-1.44],[1.561,-1.26],[1.569,-1.37],[1.577,-1.12],[1.585,-1.29],[1.593,-1.01],[1.555,-.89],[1.563,-.71],[1.571,-.81],[1.579,-.56],[1.587,-.68],[1.595,-.43],[1.557,-.34],[1.565,-.18],[1.573,-.27],[1.581,-.03],[1.589,-.14],[1.597,.09],[1.552,.16],[1.560,.29],[1.568,.07],[1.576,.36],[1.584,.22],[1.592,.44],[1.556,-1.16],[1.572,-1.54],[1.588,-.86],[1.564,-.49],[1.580,-1.41],[1.596,-.23],[1.598,.52],
[1.580,.73],[1.558,.68],[1.588,1.48],[1.571,1.68],[1.552,2.06],[1.567,2.02],[1.573,2.44],[1.563,2.64],[1.583,3.58],
[1.565,-2.19],[1.561,-2.38],[1.580,-2.34],[1.591,-2.52],[1.557,-2.21],[1.586,-2.13],
[1.601,-2.21],[1.609,-1.98],[1.617,-2.11],[1.625,-1.84],[1.633,-2.02],[1.641,-1.76],[1.649,-1.92],[1.603,-1.62],[1.611,-1.43],[1.619,-1.54],[1.627,-1.29],[1.635,-1.46],[1.643,-1.19],[1.605,-1.06],[1.613,-.88],[1.621,-.98],[1.629,-.73],[1.637,-.86],[1.645,-.61],[1.607,-.51],[1.615,-.36],[1.623,-.44],[1.631,-.21],[1.639,-.32],[1.647,-.08],[1.602,.02],[1.610,.17],[1.618,-.04],[1.626,.24],[1.634,.09],[1.642,.31],[1.606,-1.34],[1.622,-1.71],[1.638,-1.04],[1.614,-.66],[1.630,-1.58],[1.646,-.39],[1.648,-2.17],
[1.616,.15],[1.633,.60],[1.631,.70],[1.637,1.05],[1.610,1.47],[1.626,1.53],[1.605,1.75],[1.616,2.05],[1.648,2.04],[1.641,.38],
[1.603,-2.67],[1.618,-2.82],[1.622,-2.86],[1.626,-3.09],[1.636,-3.06],[1.645,-3.37],[1.629,-2.51],[1.644,-2.52],[1.612,-2.43],
[1.651,-2.31],[1.659,-2.08],[1.667,-2.19],[1.675,-1.93],[1.683,-2.11],[1.691,-1.84],[1.699,-2.02],[1.653,-1.71],[1.661,-1.52],[1.669,-1.63],[1.677,-1.38],[1.685,-1.56],[1.693,-1.28],[1.655,-1.16],[1.663,-.97],[1.671,-1.08],[1.679,-.82],[1.687,-.96],[1.695,-.71],[1.657,-.59],[1.665,-.43],[1.673,-.52],[1.681,-.28],[1.689,-.39],[1.697,-.14],[1.652,-.06],[1.660,.08],[1.668,-.11],[1.676,.16],[1.684,.02],[1.692,.21],[1.656,-1.42],[1.672,-1.79],[1.688,-1.12],[1.664,-.74],[1.680,-1.67],[1.696,-.47],[1.670,-2.26],
[1.658,.27],[1.690,.52],[1.660,.49],[1.681,.62],[1.677,.90],[1.664,1.20],[1.675,1.22],[1.671,1.48],[1.653,1.61],[1.698,1.64],[1.681,1.94],[1.671,2.18],[1.691,2.27],[1.658,2.30],
[1.677,-3.37],[1.667,-2.45],[1.684,-2.48],[1.698,-2.56],[1.659,-2.64],
[1.701,-2.28],[1.709,-2.04],[1.717,-2.16],[1.725,-1.89],[1.733,-2.07],[1.741,-1.81],[1.749,-1.97],[1.703,-1.68],[1.711,-1.49],[1.719,-1.61],[1.727,-1.35],[1.735,-1.52],[1.743,-1.26],[1.705,-1.13],[1.713,-.94],[1.721,-1.04],[1.729,-.79],[1.737,-.93],[1.745,-.67],[1.707,-.56],[1.715,-.39],[1.723,-.48],[1.731,-.24],[1.739,-.36],[1.747,-.11],[1.702,-.03],[1.710,.11],[1.718,-.08],[1.726,.17],[1.734,-.01],[1.742,.14],[1.706,-1.39],[1.722,-1.76],[1.738,-1.09],[1.714,-.71],[1.730,-1.64],[1.746,-.44],[1.720,-2.33],
[1.734,.08],[1.746,.21],[1.719,.40],[1.712,.67],[1.730,.88],[1.713,1.25],[1.744,1.46],[1.702,1.73],[1.734,2.05],[1.724,2.14],
[1.717,-2.97],[1.717,-2.86],[1.728,-2.74],[1.737,-2.48],[1.748,-2.64],
[1.504,-1.43],[1.512,-.36],[1.521,-1.02],[1.529,-1.67],[1.538,-.19],[1.546,-1.13],[1.508,-.82],[1.517,.11],[1.533,-.57],[1.542,-1.86],
[1.554,-.62],[1.562,-1.63],[1.571,-1.08],[1.579,-.29],[1.588,-1.94],[1.596,-.77],[1.558,-1.31],[1.567,-.04],[1.583,-1.52],[1.592,-1.19],
[1.604,-1.83],[1.612,-.66],[1.621,-1.36],[1.629,-2.07],[1.638,-.52],[1.646,-1.69],[1.608,-.23],[1.617,-1.17],[1.633,-1.88],[1.642,-.94],
[1.654,-1.91],[1.662,-.81],[1.671,-1.49],[1.679,-2.14],[1.688,-.62],[1.696,-1.73],[1.658,-.29],[1.667,-1.27],[1.683,-.97],[1.692,-1.98],
[1.704,-1.27],[1.712,-2.11],[1.721,-.71],[1.729,-1.93],[1.738,-.19],[1.746,-1.62],[1.708,-.91],[1.717,-1.46],[1.733,-1.16],[1.742,-2.02],
[1.585,.18],[1.625,-.06],[1.702,-.24],[1.655,.12]
]

const q8 = [
[1.751,-2.19],[1.759,-1.96],[1.767,-2.08],[1.775,-1.82],[1.783,-2.01],[1.791,-1.74],[1.799,-1.91],[1.753,-1.61],[1.761,-1.42],[1.769,-1.53],[1.777,-1.28],[1.785,-1.46],[1.793,-1.19],[1.755,-1.07],[1.763,-.88],[1.771,-.98],[1.779,-.73],[1.787,-.86],[1.795,-.61],[1.757,-.51],[1.765,-.34],[1.773,-.43],[1.781,-.19],[1.789,-.31],[1.797,-.06],[1.752,.03],[1.760,.19],[1.768,-.02],[1.776,.26],[1.784,.11],[1.792,.33],[1.756,-1.33],[1.772,-1.69],[1.788,-1.02],[1.764,-.64],[1.780,-1.58],[1.796,-.38],[1.770,-2.27],
[1.762,.17],[1.769,.79],[1.799,.51],[1.755,1.31],[1.796,1.47],[1.766,1.78],[1.788,2.22],[1.776,2.67],[1.799,3.54],[1.781,.62],
[1.750,-2.72],[1.761,-2.60],[1.777,-2.58],[1.794,-2.55],[1.785,-2.85],
[1.801,-2.12],[1.809,-1.88],[1.817,-2.01],[1.825,-1.74],[1.833,-1.92],[1.841,-1.66],[1.849,-1.83],[1.803,-1.52],[1.811,-1.33],[1.819,-1.44],[1.827,-1.19],[1.835,-1.37],[1.843,-1.09],[1.805,-.96],[1.813,-.78],[1.821,-.88],[1.829,-.62],[1.837,-.76],[1.845,-.49],[1.807,-.38],[1.815,-.21],[1.823,-.31],[1.831,-.06],[1.839,-.18],[1.847,.07],[1.802,.14],[1.810,.31],[1.818,.09],[1.826,.42],[1.834,.24],[1.842,.53],[1.806,.62],[1.822,.74],[1.838,.66],[1.814,-1.24],[1.830,-1.58],[1.846,-.91],[1.820,-.47],[1.836,-2.06],
[1.815,.71],[1.801,.80],[1.816,1.06],[1.827,1.17],[1.849,1.34],[1.832,1.43],[1.838,1.49],[1.841,2.23],[1.810,2.68],[1.821,2.92],
[1.816,-2.81],[1.815,-2.39],[1.825,-2.34],[1.827,-2.11],[1.849,-2.15],[1.808,-2.46],
[1.851,-1.87],[1.859,-1.64],[1.867,-1.77],[1.875,-1.49],[1.883,-1.68],[1.891,-1.41],[1.899,-1.58],[1.853,-1.28],[1.861,-1.09],[1.869,-1.19],[1.877,-.94],[1.885,-1.11],[1.893,-.84],[1.855,-.72],[1.863,-.54],[1.871,-.63],[1.879,-.39],[1.887,-.51],[1.895,-.26],[1.857,-.16],[1.865,.01],[1.873,-.08],[1.881,.17],[1.889,.04],[1.897,.29],[1.852,.36],[1.860,.51],[1.868,.27],[1.876,.62],[1.884,.44],[1.892,.71],[1.856,.82],[1.872,.89],[1.888,.78],[1.864,-1.38],[1.880,-.71],[1.896,-1.03],[1.870,-.29],[1.886,.11],
[1.889,1.20],[1.870,1.37],[1.896,1.46],[1.859,1.76],[1.891,1.75],[1.884,1.97],[1.863,2.27],[1.880,2.33],[1.852,3.14],[1.894,3.31],[1.877,1.06],
[1.864,-3.04],[1.870,-2.44],[1.856,-2.36],[1.860,-2.26],[1.854,-2.08],[1.869,-1.94],[1.880,-1.85],[1.858,-2.01],[1.894,-1.72],
[1.901,-1.46],[1.909,-1.24],[1.917,-1.36],[1.925,-1.09],[1.933,-1.27],[1.941,-1.01],[1.949,-1.18],[1.903,-.88],[1.911,-.69],[1.919,-.79],[1.927,-.54],[1.935,-.71],[1.943,-.44],[1.905,-.32],[1.913,-.14],[1.921,-.23],[1.929,.01],[1.937,-.11],[1.945,.14],[1.907,.21],[1.915,.37],[1.923,.28],[1.931,.51],[1.939,.39],[1.947,.62],[1.902,.68],[1.910,.83],[1.918,.59],[1.926,.94],[1.934,.76],[1.942,.97],[1.906,-.57],[1.922,-.96],[1.938,-.36],[1.914,.06],[1.930,-.83],[1.946,.49],[1.920,1.02],
[1.936,1.08],[1.946,1.31],[1.905,1.51],[1.913,1.51],[1.936,1.46],[1.946,1.62],[1.948,1.70],[1.920,1.76],[1.904,1.91],[1.938,1.96],[1.916,2.26],[1.927,2.49],[1.913,3.14],[1.924,1.22],
[1.913,-2.68],[1.925,-1.97],[1.911,-1.76],[1.924,-1.50],[1.910,-1.52],[1.944,-1.66],
[1.951,-1.06],[1.959,-.84],[1.967,-.96],[1.975,-.69],[1.983,-.87],[1.991,-.61],[1.998,-.78],[1.953,-.49],[1.961,-.31],[1.969,-.41],[1.977,-.16],[1.985,-.29],[1.993,-.04],[1.955,.06],[1.963,.22],[1.971,.13],[1.979,.37],[1.987,.24],[1.995,.48],[1.957,.54],[1.965,.69],[1.973,.61],[1.981,.83],[1.989,.72],[1.997,.93],[1.952,.87],[1.960,-.62],[1.968,.98],[1.976,-.44],[1.984,.49],[1.992,-.21],[1.956,-.18],[1.972,.31],[1.988,-.53],[1.964,-.76],[1.980,.04],[1.996,.16],
[1.979,.62],[1.992,1.03],[1.984,1.16],[1.990,1.12],[1.966,1.28],[1.971,1.26],[1.982,1.38],[1.991,1.44],[1.999,1.43],[1.966,1.62],[1.987,1.64],[1.954,1.97],[1.970,1.96],[1.997,2.02],[1.978,2.13],[1.992,2.21],[1.966,2.49],[1.960,3.26],
[1.978,-2.49],[1.989,-2.44],[1.987,-1.68],[1.997,-1.24],[1.977,-1.39],[1.987,-1.40],[1.954,-1.53],[1.960,-1.44],[1.965,-1.18],[1.953,-.97],[1.977,-.96],
[1.754,-1.21],[1.762,-2.03],[1.771,-.54],[1.779,-1.66],[1.788,-.16],[1.796,-1.34],[1.758,-.79],[1.767,-1.84],[1.783,-.97],[1.792,-2.08],
[1.804,-1.11],[1.812,-1.96],[1.821,-.39],[1.829,-1.42],[1.838,.13],[1.846,-1.27],[1.808,-.67],[1.817,-1.57],[1.833,-.86],[1.842,-1.78],
[1.854,-.43],[1.862,-1.49],[1.871,-.21],[1.879,-1.27],[1.888,-.76],[1.896,-.04],[1.858,-1.01],[1.867,.38],[1.883,-1.53],[1.892,.53],
[1.904,-1.08],[1.912,-.44],[1.921,.46],[1.929,-1.21],[1.938,.12],[1.946,-.82],[1.908,.64],[1.917,-.97],[1.933,-.37],[1.942,.71],
[1.954,-.71],[1.962,.36],[1.971,-.27],[1.979,.76],[1.988,-.09],[1.996,-.46],[1.958,-.03],[1.967,.44],[1.983,.63],[1.992,.29]
]

var points = [].concat(q1, q2, q3, q4, q5, q6, q7, q8)

var frame = {left: 122.5, right: 1187.7, top: 60.5, bottom: 766}
var stretch = 1.09 // glyphs in the picture are a little wider than tall

var xScale = d3.scaleLinear().domain([-0.1, 2.1]).range([frame.left, frame.right])
var yScale = d3.scaleLinear().domain([-3.92, 3.99]).range([frame.top, frame.bottom])

var svg = d3.select("#chart")

svg.append("g")
  .attr("class", "points")
  .selectAll("circle")
  .data(points)
  .join("circle")
  .attr("cx", d => xScale(d[0]))
  .attr("cy", d => yScale(d[1]))
  .attr("r", 3.2)
  .attr("fill", "#000")

var xAxis = d3.axisBottom(xScale)
  .tickValues(xTicks)
  .tickFormat(d3.format(".2f"))
  .tickSize(10.5)
  .tickPadding(15.7)
  .tickSizeOuter(0)

var yAxis = d3.axisLeft(yScale)
  .tickValues(yTicks)
  .tickFormat(d3.format("d"))
  .tickSize(10.5)
  .tickPadding(9.8)
  .tickSizeOuter(0)

var gx = svg.append("g")
  .attr("class", "axis-x")
  .attr("transform", "translate(0," + frame.bottom + ")")
  .call(xAxis)

var gy = svg.append("g")
  .attr("class", "axis-y")
  .attr("transform", "translate(" + frame.left + ",0)")
  .call(yAxis)

gy.selectAll(".tick text").attr("dy", "0.43em")

for (const g of [gx, gy]) {
  g.select(".domain").remove()
  g.selectAll(".tick line").attr("stroke", "#000").attr("stroke-width", 2.4)
  g.selectAll(".tick text")
    .attr("fill", "#000")
    .attr("font-size", 29)
    .attr("font-family", "DejaVu Sans")
    .attr("transform", "scale(" + stretch + ",1)")
}

svg.append("rect")
  .attr("x", frame.left)
  .attr("y", frame.top)
  .attr("width", frame.right - frame.left)
  .attr("height", frame.bottom - frame.top)
  .attr("fill", "none")
  .attr("stroke", "#000")
  .attr("stroke-width", 2.4)

var cx = (frame.left + frame.right) / 2

svg.append("text")
  .attr("transform", "translate(" + cx + ",41.3) scale(" + stretch + ",1)")
  .attr("text-anchor", "middle")
  .attr("font-size", 35)
  .text(title)

svg.append("text")
  .attr("transform", "translate(" + (cx + 1) + ",857) scale(" + stretch + ",1)")
  .attr("text-anchor", "middle")
  .attr("font-size", 29)
  .attr("font-style", "italic")
  .text(xLabel)

svg.append("text")
  .attr("transform", "translate(32.3," + ((frame.top + frame.bottom) / 2 + 1.5) + ") scale(" + stretch + ",1) rotate(-90)")
  .attr("text-anchor", "middle")
  .attr("font-size", 31)
  .text(yLabel)
</script>
</body>
</html>
